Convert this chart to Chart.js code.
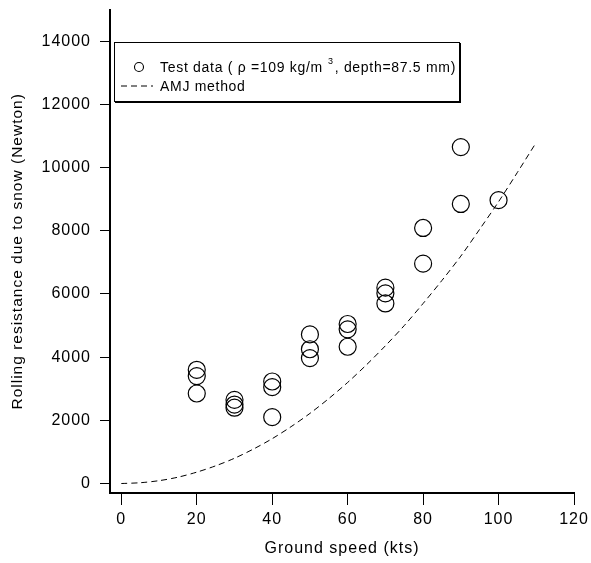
<!DOCTYPE html>
<html>
<head>
<meta charset="utf-8">
<script src="https://cdn.jsdelivr.net/npm/chart.js@4/dist/chart.umd.min.js"></script>
<style>
  html, body { margin: 0; padding: 0; background: #fff; }
  #wrap { position: relative; width: 591px; height: 563px; }
  #legend {
    position: absolute; left: 114px; top: 42px; width: 346px; height: 60px;
    border: 1px solid #000; box-shadow: 1px 1px 0 #000; background: #fff;
    font-family: "Liberation Sans", Arial, sans-serif; font-size: 14px; letter-spacing: 0.7px; color: #000;
    box-sizing: border-box;
  }
  .row { position: absolute; left: 0; height: 16px; line-height: 16px; white-space: nowrap; }
  .sym { position: absolute; left: 0; top: 0; width: 40px; height: 16px; }
  .txt { position: absolute; left: 45px; top: 0; }
  sup { font-size: 9px; position: relative; top: -8px; vertical-align: baseline; margin-left: 5px; margin-right: 1px; }
</style>
</head>
<body>
<div id="wrap">
  <canvas id="c" width="591" height="563"></canvas>
  <div id="legend">
    <div class="row" style="top:16px">
      <svg class="sym" width="40" height="16"><circle cx="24" cy="8" r="4.5" fill="none" stroke="#000" stroke-width="1.1"/></svg>
      <span class="txt">Test data ( ρ =109 kg/m<sup>3</sup>, depth=87.5 mm)</span>
    </div>
    <div class="row" style="top:35px">
      <svg class="sym" width="40" height="16"><line x1="6" y1="8" x2="38" y2="8" stroke="#000" stroke-width="1" stroke-dasharray="6,4"/></svg>
      <span class="txt">AMJ method</span>
    </div>
  </div>
</div>
<script>
const testSpeed = [20,20,20,30,30,30,40,40,40,50,50,50,60,60,60,70,70,70,80,80,90,90,100];
const testResist = [3600,3400,2850,2650,2500,2400,3230,3050,2100,4720,4250,3970,5050,4880,4330,6200,6020,5700,8090,6960,10650,8850,8970];
const amjSpeed = [0,5,10,15,20,25,30,35,40,45,50,55,60,65,70,75,80,85,90,95,100,105,110];
const amjResist = [0,25,90,200,360,560,800,1090,1420,1800,2220,2690,3200,3760,4360,5000,5700,6430,7200,8050,8920,9850,10800];
const xTicks = [0,20,40,60,80,100,120];
const yTicks = [0,2000,4000,6000,8000,10000,12000,14000];

const FONT = '"Liberation Sans", Arial, sans-serif';

const spacing = {
  id: 'spacing',
  beforeLayout(chart) { chart.ctx.letterSpacing = '1px'; },
  beforeDraw(chart) { chart.ctx.letterSpacing = '1px'; }
};

new Chart(document.getElementById('c'), {
  type: 'scatter',
  data: {
    datasets: [
      {
        label: 'Test data',
        data: testSpeed.map((x, i) => ({x: x, y: testResist[i]})),
        pointStyle: 'circle',
        pointRadius: 8.5,
        pointBorderColor: '#000',
        pointBackgroundColor: 'rgba(0,0,0,0)',
        pointBorderWidth: 1.2,
        showLine: false
      },
      {
        label: 'AMJ method',
        data: amjSpeed.map((x, i) => ({x: x, y: amjResist[i]})),
        showLine: true,
        borderColor: '#000',
        borderWidth: 1,
        borderDash: [6, 4],
        pointRadius: 0,
        tension: 0.3,
        fill: false
      }
    ]
  },
  options: {
    responsive: false,
    animation: false,
    clip: false,
    layout: { padding: { top: 6, right: 17, left: 0, bottom: 0 } },
    plugins: { legend: { display: false }, tooltip: { enabled: false } },
    scales: {
      x: {
        type: 'linear', min: -3, max: 120,
        afterFit(s) { s.height = 70; s.paddingLeft = 0; s.paddingRight = 0; },
        afterBuildTicks(s) { s.ticks = xTicks.map(v => ({value: v})); },
        grid: { drawOnChartArea: false, drawTicks: true, tickLength: 12, color: '#000', lineWidth: 1 },
        border: { display: true, color: '#000', width: 2 },
        ticks: { color: '#000', font: { family: FONT, size: 16 }, padding: 5, maxRotation: 0, callback: v => String(v) },
        title: { display: true, text: 'Ground speed (kts)', color: '#000', font: { family: FONT, size: 16 }, padding: { top: 0, bottom: 5 } }
      },
      y: {
        type: 'linear', min: -300, max: 15000,
        afterFit(s) { s.width = 110; s.paddingTop = 0; s.paddingBottom = 0; },
        afterBuildTicks(s) { s.ticks = yTicks.map(v => ({value: v})); },
        grid: { drawOnChartArea: false, drawTicks: true, tickLength: 10, color: '#000', lineWidth: 1 },
        border: { display: true, color: '#000', width: 2 },
        ticks: { color: '#000', font: { family: FONT, size: 16 }, padding: 9, callback: v => String(v) },
        title: { display: true, text: 'Rolling resistance due to snow (Newton)', color: '#000', font: { family: FONT, size: 15.5 }, padding: { top: 8, bottom: 0 } }
      }
    }
  },
  plugins: [spacing]
});
</script>
</body>
</html>
